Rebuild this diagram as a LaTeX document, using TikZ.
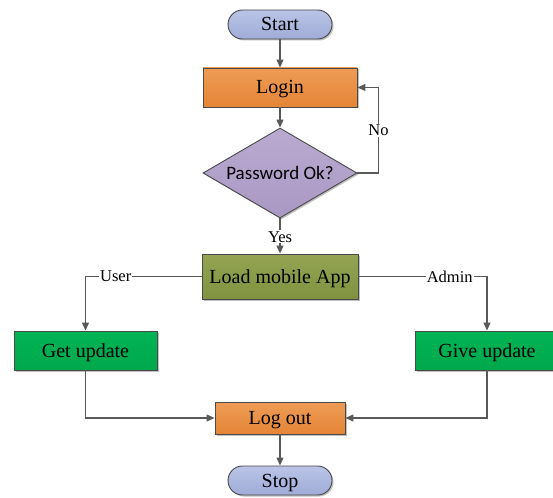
\documentclass[tikz,border=0pt]{standalone}
\usepackage{fontspec}
\setmainfont{Liberation Serif}
\newfontfamily\calib{Carlito}
\usetikzlibrary{arrows.meta,shapes.geometric,shadows}
\definecolor{lineC}{HTML}{595959}
\definecolor{edgeC}{HTML}{4A4A4A}
\tikzset{
  box/.style={draw=edgeC, line width=0.9pt, rectangle, inner sep=0pt,
    drop shadow={shadow xshift=1.5pt, shadow yshift=-1.5pt, opacity=0.25, fill=black}},
  pill/.style={box, rounded corners=14.5pt, minimum width=104pt, minimum height=29pt,
    top color={rgb,255:red,186;green,196;blue,231}, bottom color={rgb,255:red,160;green,172;blue,216}},
  orangebox/.style={box, top color={rgb,255:red,238;green,156;blue,86}, bottom color={rgb,255:red,228;green,133;blue,54}},
  greenbox/.style={box, top color={rgb,255:red,0;green,180;blue,84}, bottom color={rgb,255:red,0;green,168;blue,76},
    minimum width=143pt, minimum height=39pt},
  olivebox/.style={box, top color={rgb,255:red,148;green,164;blue,82}, bottom color={rgb,255:red,128;green,146;blue,64}},
  decision/.style={draw=edgeC, line width=0.9pt, diamond, aspect=1.71, inner sep=0pt,
    minimum width=154pt, minimum height=90pt,
    top color={rgb,255:red,186;green,170;blue,208}, bottom color={rgb,255:red,170;green,152;blue,196},
    drop shadow={shadow xshift=1.5pt, shadow yshift=-1.5pt, opacity=0.25, fill=black}},
  conn/.style={draw=lineC, line width=1.2pt, -{Triangle[length=8pt,width=7pt]}},
  lbl/.style={fill=white, inner sep=1pt, font=\fontsize{16.5}{18}\selectfont},
  txt/.style={font=\fontsize{20}{22}\selectfont, text height=13pt, text depth=0pt}
}
\begin{document}
\begin{tikzpicture}[x=1pt,y=-1pt]
\useasboundingbox (0,0) rectangle (553,497);
\node[pill, txt] (start) at (280,24.5) {Start};
\node[orangebox, txt, minimum width=154pt, minimum height=39pt] (login) at (280,87.5) {Login};
\node[decision, font=\calib\fontsize{19}{22}\selectfont, text height=12pt, text depth=0pt] (dec) at (280,173) {Password Ok?};
\node[olivebox, txt, minimum width=156pt, minimum height=45pt] (load) at (280,276.5) {Load mobile App};
\node[greenbox, txt] (get) at (85.5,350.5) {Get update};
\node[greenbox, txt] (give) at (487,350.5) {Give update};
\node[orangebox, txt, minimum width=130pt, minimum height=32pt] (logout) at (280,418) {Log out};
\node[pill, txt] (stop) at (280,480.5) {Stop};

\draw[conn] (start) -- (login);
\draw[conn] (login) -- (dec);
\draw[conn] (dec.east) -- ++(21,0) |- node[lbl, pos=0.25] {No} (login.east);
\draw[conn] (dec) -- node[lbl, pos=0.52] {Yes} (load);
\draw[conn] (load.west) -| node[lbl, pos=0.37] {User} (get.north);
\draw[conn] (load.east) -| node[lbl, pos=0.355] {Admin} (give.north);
\draw[conn] (get.south) |- (logout.west);
\draw[conn] (give.south) |- (logout.east);
\draw[conn] (logout) -- (stop);
\end{tikzpicture}
\end{document}
